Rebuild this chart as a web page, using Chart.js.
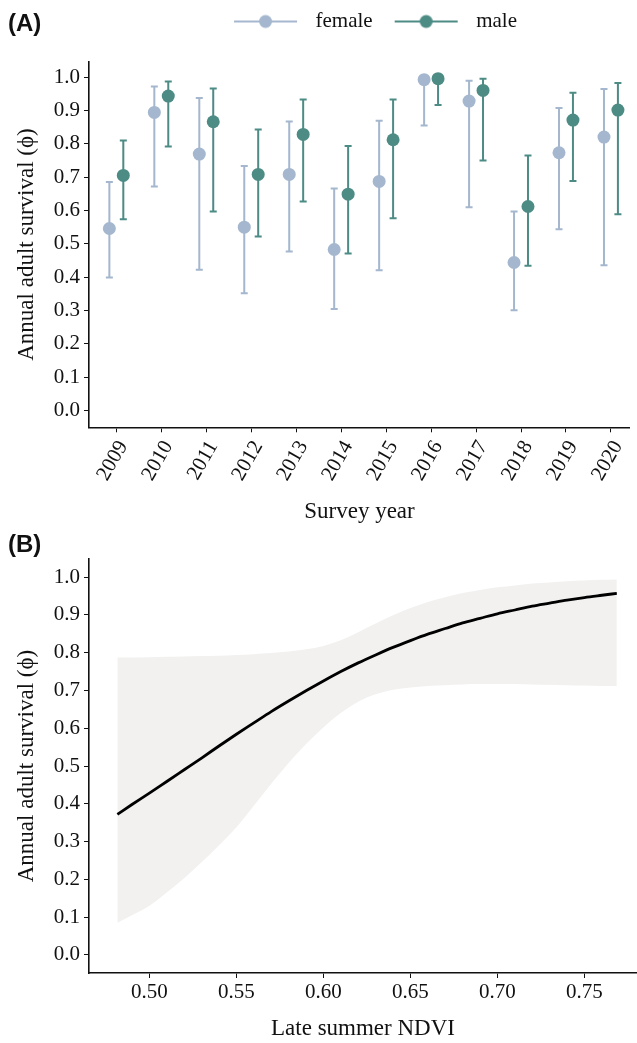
<!DOCTYPE html>
<html>
<head>
<meta charset="utf-8">
<script src="https://cdn.jsdelivr.net/npm/chart.js@4.4.1/dist/chart.umd.min.js"></script>
<style>
  html, body { margin: 0; padding: 0; background: #fff; }
  #wrap { position: relative; width: 637px; height: 1043px; overflow: hidden; }
  canvas { position: absolute; left: 0; }
  #chartA { top: 0; }
  #chartB { top: 530px; }
  .tag { position: absolute; left: 8px; font: bold 24px "Liberation Sans", Arial, sans-serif; color: #111; line-height: 28px; }
</style>
</head>
<body>
<div id="wrap">
  <canvas id="chartA" width="637" height="530"></canvas>
  <canvas id="chartB" width="637" height="513"></canvas>
  <div class="tag" style="top:9px">(A)</div>
  <div class="tag" style="top:530px">(B)</div>
</div>
<script>
// ---- panel A: survival by year (estimate + 95% CI) ----
const years = [2009, 2010, 2011, 2012, 2013, 2014, 2015, 2016, 2017, 2018, 2019, 2020];
const femaleSurv  = [0.546, 0.894, 0.769, 0.550, 0.708, 0.483, 0.687, 0.992, 0.928, 0.444, 0.773, 0.820];
const femaleLower = [0.399, 0.672, 0.422, 0.352, 0.477, 0.305, 0.421, 0.855, 0.610, 0.301, 0.544, 0.436];
const femaleUpper = [0.685, 0.972, 0.937, 0.733, 0.867, 0.666, 0.869, 1.000, 0.989, 0.597, 0.907, 0.964];
const maleSurv    = [0.705, 0.943, 0.866, 0.708, 0.828, 0.649, 0.812, 0.995, 0.960, 0.612, 0.871, 0.901];
const maleLower   = [0.574, 0.792, 0.597, 0.522, 0.627, 0.471, 0.577, 0.916, 0.750, 0.434, 0.688, 0.589];
const maleUpper   = [0.810, 0.987, 0.966, 0.843, 0.933, 0.793, 0.933, 1.000, 0.995, 0.765, 0.953, 0.982];

// ---- panel B: survival vs late summer NDVI (fit + 95% CI) ----
const ndvi = [0.4816, 0.49, 0.50, 0.51, 0.52, 0.53, 0.54, 0.55, 0.56, 0.57, 0.58, 0.59, 0.60, 0.61, 0.62,
              0.63, 0.64, 0.65, 0.66, 0.67, 0.68, 0.69, 0.70, 0.71, 0.72, 0.73, 0.74, 0.75, 0.76, 0.7686];
const fitSurv = [0.372, 0.398, 0.428, 0.459, 0.490, 0.521, 0.553, 0.584, 0.614, 0.644, 0.672, 0.699, 0.725, 0.750, 0.773,
                 0.794, 0.814, 0.832, 0.849, 0.864, 0.879, 0.891, 0.903, 0.913, 0.923, 0.931, 0.939, 0.946, 0.952, 0.957];
const ciUpper = [0.787, 0.787, 0.788, 0.789, 0.790, 0.791, 0.792, 0.794, 0.796, 0.799, 0.803, 0.809, 0.818, 0.833, 0.854,
                 0.877, 0.899, 0.918, 0.934, 0.947, 0.958, 0.966, 0.973, 0.978, 0.983, 0.986, 0.989, 0.991, 0.993, 0.994];
const ciLower = [0.085, 0.105, 0.130, 0.165, 0.203, 0.245, 0.290, 0.338, 0.395, 0.453, 0.508, 0.558, 0.602, 0.640, 0.670,
                 0.690, 0.702, 0.708, 0.712, 0.714, 0.716, 0.717, 0.717, 0.717, 0.716, 0.715, 0.714, 0.713, 0.712, 0.712];

const yTicks = [0, 0.1, 0.2, 0.3, 0.4, 0.5, 0.6, 0.7, 0.8, 0.9, 1.0];

const FEMALE = '#a4b7ce';
const MALE = '#4d8b85';
const INK = '#111';
const DODGE = 0.155;

Chart.defaults.font.family = '"Liberation Serif", "Times New Roman", serif';
Chart.defaults.color = INK;

// ggplot-style legend key: line with a dot in the middle, padded so the gaps match
function legendKey(color) {
  const c = document.createElement('canvas');
  c.width = 85; c.height = 16;
  const g = c.getContext('2d');
  g.strokeStyle = color; g.lineWidth = 2;
  g.beginPath(); g.moveTo(14, 8); g.lineTo(77, 8); g.stroke();
  g.fillStyle = color;
  g.beginPath(); g.arc(45.5, 8, 6.5, 0, Math.PI * 2); g.fill();
  return c;
}

const errorBars = {
  id: 'errorBars',
  beforeDatasetsDraw(chart) {
    const { ctx, scales: { x, y } } = chart;
    chart.data.datasets.forEach(ds => {
      ctx.save();
      ctx.strokeStyle = ds.backgroundColor;
      ctx.lineWidth = 2;
      ds.data.forEach((p, i) => {
        const px = x.getPixelForValue(p.x);
        const hi = y.getPixelForValue(ds.upper[i]);
        const lo = y.getPixelForValue(ds.lower[i]);
        ctx.beginPath();
        ctx.moveTo(px, hi); ctx.lineTo(px, lo);
        ctx.moveTo(px - 3.5, hi); ctx.lineTo(px + 3.5, hi);
        ctx.moveTo(px - 3.5, lo); ctx.lineTo(px + 3.5, lo);
        ctx.stroke();
      });
      ctx.restore();
    });
  }
};

// legend sits over the panel centre, with space beneath it
const legendGap = {
  id: 'legendGap',
  beforeLayout(chart, args, opts) {
    const lg = chart.legend;
    if (lg && !lg._gapPatched) {
      const fit = lg.fit;
      lg.fit = function () { fit.call(this); this.height += chart.options.plugins.legendGap.gap; };
      lg._gapPatched = true;
    }
  },
  afterLayout(chart, args, opts) {
    chart.legend.left += opts.shift;
    chart.legend.right += opts.shift;
  }
};

function yAxis() {
  return {
    min: -0.05, max: 1.046,
    afterBuildTicks: s => { s.ticks = yTicks.map(v => ({ value: v })); },
    afterFit: s => { s.width = 89; },
    ticks: { padding: 4, font: { size: 21 }, callback: v => v.toFixed(1) },
    grid: { drawOnChartArea: false, tickLength: 5, color: INK, tickWidth: 1 },
    border: { color: INK, width: 1.6 },
    title: { display: true, text: 'Annual adult survival (ϕ)', font: { size: 23 }, padding: { top: 13, bottom: 0 } }
  };
}

const chartA = new Chart(document.getElementById('chartA'), {
  type: 'scatter',
  data: {
    datasets: [
      { label: 'female', data: years.map((yr, i) => ({ x: yr - DODGE, y: femaleSurv[i] })),
        upper: femaleUpper, lower: femaleLower,
        backgroundColor: FEMALE, borderWidth: 0, pointRadius: 6.5, pointHoverRadius: 6.5 },
      { label: 'male', data: years.map((yr, i) => ({ x: yr + DODGE, y: maleSurv[i] })),
        upper: maleUpper, lower: maleLower,
        backgroundColor: MALE, borderWidth: 0, pointRadius: 6.5, pointHoverRadius: 6.5 }
    ]
  },
  options: {
    responsive: false,
    animation: false,
    layout: { padding: { top: 3, left: 0, right: 0, bottom: 0 } },
    plugins: {
      tooltip: { enabled: false },
      legendGap: { gap: 20, shift: 50 },
      legend: {
        position: 'top',
        labels: {
          usePointStyle: true, pointStyleWidth: 85, padding: 8,
          font: { size: 21 }, color: INK,
          generateLabels: chart => chart.data.datasets.map((ds, i) => ({
            text: ds.label, datasetIndex: i, pointStyle: legendKey(ds.backgroundColor),
            fillStyle: 'transparent', strokeStyle: 'transparent', lineWidth: 0, fontColor: INK, hidden: false
          }))
        }
      }
    },
    scales: {
      x: {
        type: 'linear', min: 2008.392, max: 2020.423,
        afterBuildTicks: s => { s.ticks = years.map(v => ({ value: v })); },
        afterFit: s => { s.height = 102.7; },
        ticks: { minRotation: 60, maxRotation: 60, autoSkip: false, padding: 4, labelOffset: 7,
                 font: { size: 21 }, callback: v => String(v) },
        grid: { drawOnChartArea: false, tickLength: 5, color: INK, tickWidth: 1 },
        border: { color: INK, width: 1.6 },
        title: { display: true, text: 'Survey year', font: { size: 23 }, padding: { top: 0, bottom: 4 } }
      },
      y: yAxis()
    }
  },
  plugins: [errorBars, legendGap]
});

// settle the legend spacing so the panel top lands where it does in the figure
chartA.options.plugins.legendGap.gap += 61.7 - chartA.chartArea.top;
chartA.update();

new Chart(document.getElementById('chartB'), {
  type: 'line',
  data: {
    datasets: [
      { label: 'fit', data: ndvi.map((x, i) => ({ x, y: fitSurv[i] })),
        borderColor: '#000', borderWidth: 2.8, pointRadius: 0, fill: false, cubicInterpolationMode: 'monotone' },
      { label: 'upper', data: ndvi.map((x, i) => ({ x, y: ciUpper[i] })),
        borderWidth: 0, borderColor: 'rgba(0,0,0,0)', pointRadius: 0, fill: '+1', backgroundColor: '#f2f1f0',
        cubicInterpolationMode: 'monotone' },
      { label: 'lower', data: ndvi.map((x, i) => ({ x, y: ciLower[i] })),
        borderWidth: 0, borderColor: 'rgba(0,0,0,0)', pointRadius: 0, fill: false,
        cubicInterpolationMode: 'monotone' }
    ]
  },
  options: {
    responsive: false,
    animation: false,
    layout: { padding: { top: 29, left: 0, right: 0, bottom: 0 } },
    plugins: { legend: { display: false }, tooltip: { enabled: false } },
    scales: {
      x: {
        type: 'linear', min: 0.4653, max: 0.7802,
        ticks: { stepSize: 0.05, includeBounds: false, padding: 2, font: { size: 21 }, callback: v => v.toFixed(2) },
        afterFit: s => { s.height = 70; },
        grid: { drawOnChartArea: false, tickLength: 5, color: INK, tickWidth: 1 },
        border: { color: INK, width: 1.6 },
        title: { display: true, text: 'Late summer NDVI', font: { size: 23 }, padding: { top: 0, bottom: 0 } }
      },
      y: Object.assign(yAxis(), { min: -0.048, max: 1.048 })
    }
  }
});
</script>
</body>
</html>
